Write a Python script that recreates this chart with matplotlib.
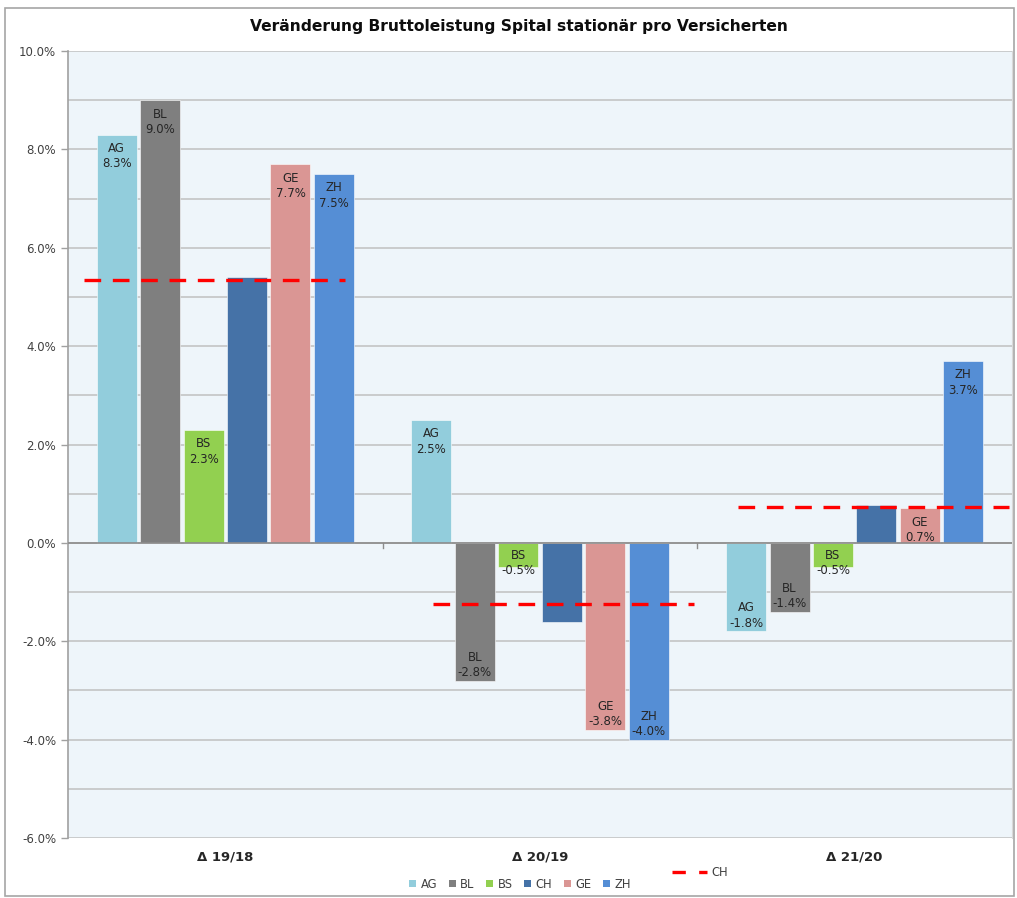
import matplotlib
matplotlib.use("Agg")
import matplotlib.pyplot as plt
from matplotlib.patches import Rectangle, Patch
from matplotlib.lines import Line2D
from matplotlib.ticker import FuncFormatter, MultipleLocator
import numpy as np

# ---- data ----
categories = ["\u0394 19/18", "\u0394 20/19", "\u0394 21/20"]
regions = ["AG", "BL", "BS", "CH", "GE", "ZH"]
values = {
    "AG": [8.3, 2.5, -1.8],
    "BL": [9.0, -2.8, -1.4],
    "BS": [2.3, -0.5, -0.5],
    "CH": [5.4, -1.6, 0.78],
    "GE": [7.7, -3.8, 0.7],
    "ZH": [7.5, -4.0, 3.7],
}
ch_line = [5.35, -1.25, 0.72]
title = "Ver\u00e4nderung Bruttoleistung Spital station\u00e4r pro Versicherten"

# ---- style ----
colors = {"AG": "#92CDDC", "BL": "#7F7F7F", "BS": "#92D050",
          "CH": "#4572A7", "GE": "#DA9694", "ZH": "#558ED5"}
labelled = {"AG", "BL", "BS", "GE", "ZH"}
ch_span = [(-0.45, 0.38), (-0.34, 0.49), (-0.37, 0.49)]

plt.rcParams["font.family"] = ["DejaVu Sans"]
fig = plt.figure(figsize=(10.17, 8.98), dpi=100)
fig.patches.append(Rectangle((5/1017, 2/898), 1009/1017, 888/898, transform=fig.transFigure,
                             fill=False, edgecolor="#A6A6A6", linewidth=1.2))
ax = fig.add_axes([68/1017, 60/898, (1012-68)/1017, (838-51)/898])
ax.set_facecolor("#EEF5FA")

bw = 0.127
step = 0.138
x = np.arange(len(categories))
for k, r in enumerate(regions):
    off = (k - 2.5) * step
    ax.bar(x + off, values[r], width=bw, color=colors[r], zorder=3,
           edgecolor="white", linewidth=0.4)
    if r in labelled:
        for i, v in enumerate(values[r]):
            txt = f"{r}\n{v:.1f}%"
            if v >= 0:
                ax.text(i + off, v - 0.15, txt, ha="center", va="top", fontsize=8.5,
                        color="#262626", zorder=5, linespacing=1.25)
            elif v > -0.65:
                ax.text(i + off, -0.12, txt, ha="center", va="top", fontsize=8.5,
                        color="#262626", zorder=5, linespacing=1.25)
            else:
                ax.text(i + off, v + 0.03, txt, ha="center", va="bottom", fontsize=8.5,
                        color="#262626", zorder=5, linespacing=1.25)

for i, v in enumerate(ch_line):
    a, b = ch_span[i]
    ax.plot([i + a, i + b], [v, v], color="#FF0000", linewidth=2.4,
            dashes=(5, 3.5), zorder=4)

ax.set_xlim(-0.5, 2.5)
ax.set_ylim(-6, 10)
ax.yaxis.set_major_locator(MultipleLocator(2))
ax.yaxis.set_major_formatter(FuncFormatter(lambda v, p: f"{v:.1f}%"))
ax.yaxis.set_minor_locator(MultipleLocator(1))
ax.grid(axis="y", which="both", color="#C0C0C0", linewidth=1.1, zorder=0)
ax.tick_params(axis="y", which="major", labelsize=8.5, labelcolor="#404040",
               color="#A0A0A0", length=5, width=1)
ax.tick_params(axis="y", which="minor", length=0)

ax.set_xticks([])
ax.axhline(0, color="#8C8C8C", linewidth=1.2, zorder=3)
for xb in [0.5, 1.5]:
    ax.plot([xb, xb], [0, -0.1], color="#8C8C8C", linewidth=1, zorder=3, clip_on=False)
for i, c in enumerate(categories):
    ax.text(i, -6.25, c, ha="center", va="top", fontsize=9.5, fontweight="bold",
            color="#262626", transform=ax.transData)

for s in ["top", "bottom"]:
    ax.spines[s].set_visible(False)
ax.spines["left"].set_color("#A0A0A0")
ax.spines["left"].set_linewidth(1.2)
ax.spines["right"].set_color("#D9D9D9")

fig.text(519/1017, 1 - 27/898, title, ha="center", va="center", fontsize=11.2,
         fontweight="bold", color="#0D0D0D")

handles = [Patch(facecolor=colors[r], edgecolor="none", label=r) for r in regions]
leg1 = fig.legend(handles=handles, loc="center", bbox_to_anchor=(520/1017, 1 - 884/898),
                  ncol=6, frameon=False, fontsize=8.3, handlelength=0.6, handleheight=0.6,
                  handletextpad=0.4, columnspacing=1.0, labelcolor="#404040")
leg2 = fig.legend(handles=[Line2D([], [], color="#FF0000", linewidth=2.4, dashes=(4, 4))],
                  labels=["CH"], loc="center", bbox_to_anchor=(700/1017, 1 - 873/898),
                  frameon=False, fontsize=8.3, handlelength=3, handletextpad=0.4,
                  labelcolor="#404040")

fig.savefig("out.png", dpi=100, facecolor="white")
